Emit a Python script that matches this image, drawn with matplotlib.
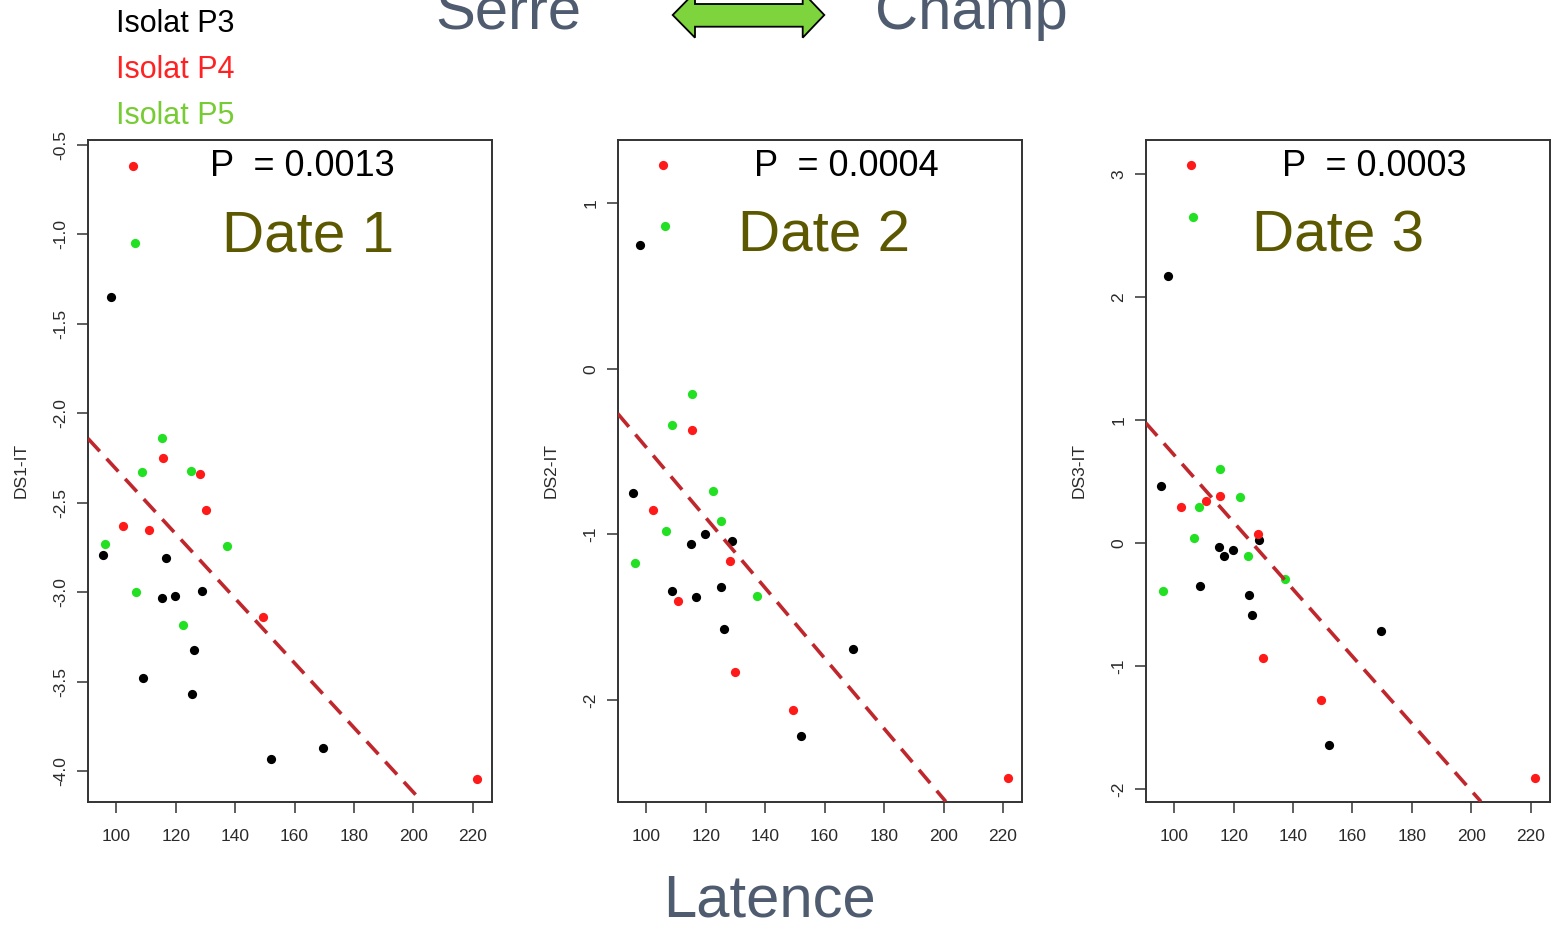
import matplotlib.pyplot as plt
from matplotlib.patches import Polygon

plt.rcParams['font.family'] = ['Liberation Sans', 'DejaVu Sans']
plt.rcParams['axes.unicode_minus'] = False

# latency of each isolate (same for the three dates)
latency_p3 = [98.0, 95.5, 119.7, 115.2, 128.7, 108.8, 116.6, 125.3, 126.1, 169.6, 152.0]
latency_p4 = [105.6, 115.5, 102.3, 110.8, 128.2, 130.0, 149.4, 221.6]
latency_p5 = [106.4, 115.3, 108.5, 122.3, 125.0, 106.5, 96.2, 137.2]

# DS-IT values per date
ds1_p3 = [-1.35, -2.79, -3.02, -3.03, -2.99, -3.48, -2.81, -3.57, -3.32, -3.87, -3.93]
ds1_p4 = [-0.62, -2.25, -2.63, -2.65, -2.34, -2.54, -3.14, -4.04]
ds1_p5 = [-1.05, -2.14, -2.33, -3.18, -2.32, -3.00, -2.73, -2.74]

ds2_p3 = [0.75, -0.75, -1.00, -1.06, -1.04, -1.34, -1.38, -1.32, -1.57, -1.69, -2.22]
ds2_p4 = [1.23, -0.37, -0.85, -1.40, -1.16, -1.83, -2.06, -2.47]
ds2_p5 = [0.86, -0.15, -0.34, -0.74, -0.92, -0.98, -1.17, -1.37]

ds3_p3 = [2.17, 0.46, -0.06, -0.03, 0.02, -0.35, -0.11, -0.42, -0.59, -0.72, -1.64]
ds3_p4 = [3.07, 0.38, 0.29, 0.34, 0.07, -0.94, -1.28, -1.91]
ds3_p5 = [2.65, 0.60, 0.29, 0.37, -0.11, 0.04, -0.39, -0.29]

# regression lines (intercept, slope)
fit_intercepts = [-0.512, 1.649, 3.443]
fit_slopes = [-0.01802, -0.02123, -0.02729]

p_values = ['0.0013', '0.0004', '0.0003']
date_labels = ['Date 1', 'Date 2', 'Date 3']
y_labels = ['DS1-IT', 'DS2-IT', 'DS3-IT']
x_ticks = [100, 120, 140, 160, 180, 200, 220]
y_ticks = [[-4.0, -3.5, -3.0, -2.5, -2.0, -1.5, -1.0, -0.5],
           [-2, -1, 0, 1],
           [-2, -1, 0, 1, 2, 3]]
y_limits = [(-4.168, -0.474), (-2.613, 1.382), (-2.103, 3.276)]
legend_labels = ['Isolat P3', 'Isolat P4', 'Isolat P5']

W, H = 1551, 926
BLACK = '#000000'
RED = '#ff1a1a'
GREEN = '#22e022'
TITLE_BLUE = '#4f5b6e'
OLIVE = '#5c5800'


def fx(px):
    return px / W


def fy(py):
    return 1 - py / H


def draw_panel(fig, rect, i, p3, p4, p5):
    ax = fig.add_axes(rect)
    ax.scatter(latency_p3, p3, s=44, color=BLACK, linewidths=0, zorder=3)
    ax.scatter(latency_p4, p4, s=44, color=RED, linewidths=0, zorder=3)
    ax.scatter(latency_p5, p5, s=44, color=GREEN, linewidths=0, zorder=3)
    ax.axline((0, fit_intercepts[i]), slope=fit_slopes[i], color='#c0272d',
              lw=2.6, linestyle=(0, (4.8, 2.8)), zorder=4)
    ax.set_xlim(90.4, 226.5)
    ax.set_ylim(*y_limits[i])
    ax.set_xticks(x_ticks)
    ax.set_yticks(y_ticks[i])
    if i == 0:
        ax.set_yticklabels([f"{v:.1f}" for v in y_ticks[i]])
    else:
        ax.set_yticklabels([str(v) for v in y_ticks[i]])
    ax.tick_params(axis='both', direction='out', length=8, width=1.1,
                   color='#333333', labelcolor='#2a2a2a', labelsize=12.5)
    ax.tick_params(axis='x', pad=12)
    ax.tick_params(axis='y', pad=6, labelrotation=90)
    for lbl in ax.get_yticklabels():
        lbl.set_va('center')
    for sp in ax.spines.values():
        sp.set_color('#333333')
        sp.set_linewidth(1.4)
    ax.text(-0.165, 0.5, y_labels[i], transform=ax.transAxes, rotation=90,
            ha='center', va='center', fontsize=12.5, color='#2a2a2a')
    return ax


fig = plt.figure(figsize=(15.51, 9.26), dpi=100)

panels = [(88, 492, ds1_p3, ds1_p4, ds1_p5),
          (617.7, 1022.3, ds2_p3, ds2_p4, ds2_p5),
          (1145.7, 1550, ds3_p3, ds3_p4, ds3_p5)]
top_px, bottom_px = 140, 801.5
for i, (left, right, p3, p4, p5) in enumerate(panels):
    rect = [fx(left), fy(bottom_px), fx(right - left), (bottom_px - top_px) / H]
    draw_panel(fig, rect, i, p3, p4, p5)

# P values and dates
p_centers = [302, 846, 1374]
date_centers = [308, 824, 1338]
for i in range(3):
    fig.text(fx(p_centers[i]), fy(166), f"P  = {p_values[i]}", ha='center', va='center',
             fontsize=26, color='black')
    fig.text(fx(date_centers[i]), fy(237), date_labels[i], ha='center', va='center',
             fontsize=42, color=OLIVE)

# legend text
for label, color, yc in zip(legend_labels, [BLACK, '#ff2222', '#77cc33'], [24, 70, 116]):
    fig.text(fx(116), fy(yc), label, ha='left', va='center', fontsize=22, color=color)

# title with double arrow (cut off at the top, as in the slide)
fig.text(fx(435), fy(29), 'Serre', ha='left', va='baseline', fontsize=43, color=TITLE_BLUE)
fig.text(fx(875), fy(29), 'Champ', ha='left', va='baseline', fontsize=43, color=TITLE_BLUE)
arrow_px = [(672.7, 15), (695, -7.7), (695, 4), (802.7, 4), (802.7, -7.7), (824.3, 15),
            (802.7, 37.7), (802.7, 26.7), (695, 26.7), (695, 37.7)]
fig.patches.append(Polygon([(fx(x), fy(y)) for x, y in arrow_px], closed=True,
                           transform=fig.transFigure, facecolor='#7ed43c',
                           edgecolor='black', lw=1.3))

fig.text(fx(770), fy(901), 'Latence', ha='center', va='center', fontsize=43, color=TITLE_BLUE)

plt.savefig('out.png', dpi=100)
